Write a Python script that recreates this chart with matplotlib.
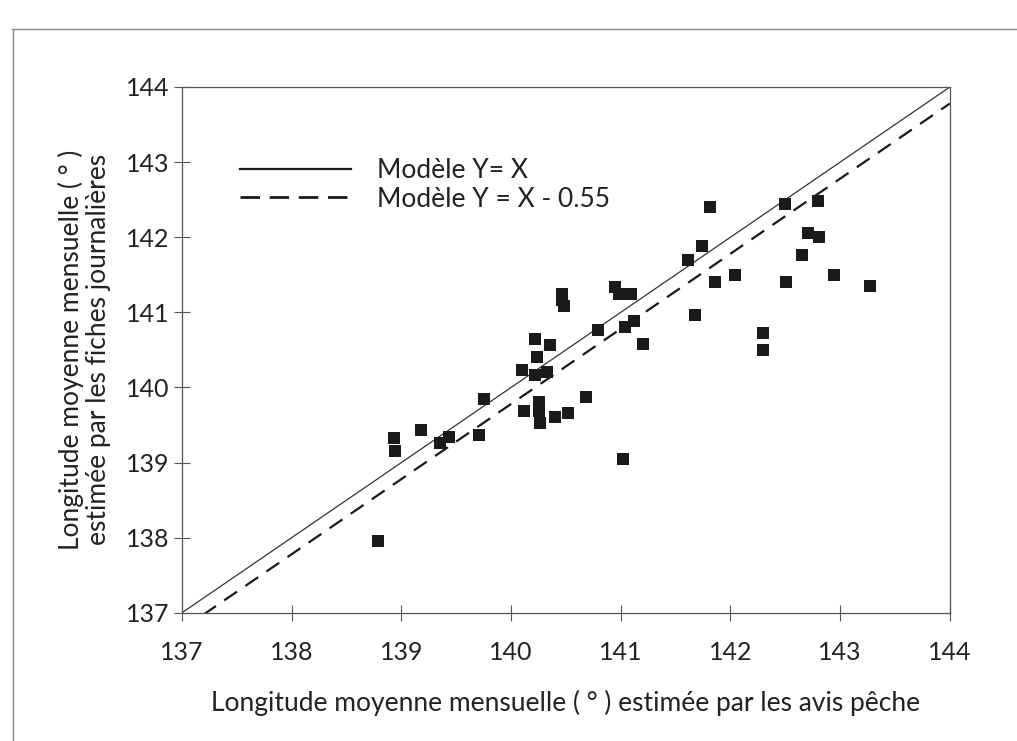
import matplotlib
matplotlib.use("Agg")
import matplotlib.pyplot as plt
from matplotlib.lines import Line2D
import numpy as np

# Data
x_avis = [138.79, 138.93, 138.94, 139.18, 139.35, 139.43, 139.71, 139.75,
          140.12, 140.10, 140.22, 140.33, 140.22, 140.24, 140.35, 140.25,
          140.25, 140.26, 140.40, 140.52, 140.68, 140.46, 140.46, 140.48,
          140.79, 140.95, 140.98, 141.09, 141.12, 141.04, 141.20, 141.02,
          141.68, 141.61, 141.74, 141.81, 141.86, 142.04, 142.30, 142.30,
          142.50, 142.51, 142.65, 142.71, 142.81, 142.80, 142.94, 143.27]
y_fiches = [137.96, 139.32, 139.16, 139.43, 139.26, 139.34, 139.36, 139.85,
            139.68, 140.23, 140.16, 140.21, 140.64, 140.40, 140.57, 139.80,
            139.69, 139.52, 139.60, 139.66, 139.87, 141.25, 141.17, 141.09,
            140.77, 141.34, 141.25, 141.25, 140.89, 140.80, 140.58, 139.05,
            140.96, 141.70, 141.88, 142.40, 141.41, 141.50, 140.72, 140.50,
            142.44, 141.40, 141.76, 142.06, 142.00, 142.48, 141.50, 141.35]

ticks = [137, 138, 139, 140, 141, 142, 143, 144]
label_identity = "Modèle Y= X"
label_offset = "Modèle Y = X - 0.55"
drawn_offset = 0.22  # offset of the dashed line as drawn in the figure

plt.rcParams['font.family'] = ['Lato', 'DejaVu Sans']
FS_TICK = 18
FS = 19

fig = plt.figure(figsize=(10.17, 7.41), dpi=100)
ax = fig.add_axes([0.179, 0.1731, 0.755, 0.7095])

lo, hi = ticks[0], ticks[-1]
xl = np.array([lo, hi])
ax.plot(xl, xl, color='#333333', lw=0.9, zorder=2)
ax.plot(xl, xl - drawn_offset, color='#1a1a1a', lw=1.6, dashes=(7, 4.5), zorder=2)
ax.scatter(x_avis, y_fiches, marker='s', s=78, color='#1a1a1a', zorder=3, linewidths=0)

ax.set_xlim(lo, hi)
ax.set_ylim(lo, hi)
ax.set_xticks(ticks)
ax.set_yticks(ticks)
ax.tick_params(direction='inout', length=12, width=0.8, color='#555555',
               labelsize=FS_TICK, labelcolor='#222222')
ax.tick_params(axis='x', pad=14)
ax.tick_params(axis='y', pad=3)
for s in ax.spines.values():
    s.set_color('#555555')
    s.set_linewidth(0.9)

ax.set_xlabel("Longitude moyenne mensuelle ( ° ) estimée par les avis pêche",
              fontsize=FS, color='#222222', labelpad=19)
ax.set_ylabel("Longitude moyenne mensuelle ( ° )\nestimée par les fiches journalières",
              fontsize=FS, color='#222222', labelpad=11, linespacing=1.1)

handles = [Line2D([], [], color='#1a1a1a', lw=1.6),
           Line2D([], [], color='#1a1a1a', lw=2.0, dashes=(7, 3.5))]
ax.legend(handles, [label_identity, label_offset], loc='upper left',
          bbox_to_anchor=(0.0755, 0.864), frameon=False, fontsize=FS,
          handlelength=4.2, handletextpad=1.0, labelspacing=0.12,
          borderpad=0, borderaxespad=0, labelcolor='#222222')

# outer frame of the scanned page
fig.add_artist(Line2D([0.013, 0.013], [0.0, 0.961], color='#888888', lw=1.0))
fig.add_artist(Line2D([0.012, 1.0], [0.961, 0.961], color='#888888', lw=1.0))

fig.savefig("out.png", dpi=100)
